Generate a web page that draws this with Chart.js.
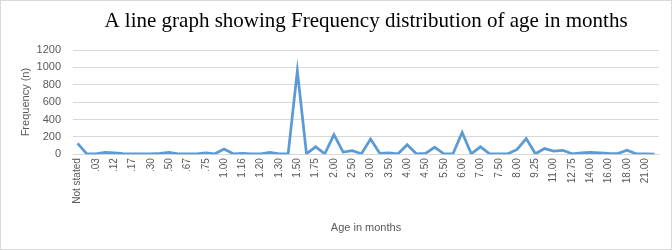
<!DOCTYPE html>
<html>
<head>
<meta charset="utf-8">
<script src="https://cdn.jsdelivr.net/npm/chart.js@4.4.1/dist/chart.umd.min.js"></script>
<style>
    html, body { margin: 0; padding: 0; background: #fff; }
    #wrap { width: 670px; height: 248px; border: 1px solid #d9d9d9; position: relative; }
</style>
</head>
<body>
<div id="wrap"><canvas id="ageChart" width="670" height="248"></canvas></div>
<script>
// Age categories (months) - only every other one is labelled on the axis
const ageLabels = [
    'Not stated', '.01', '.03', '.10', '.12', '.13', '.17', '.25', '.30', '.33',
    '.50', '.58', '.67', '.70', '.75', '.83', '1.00', '1.10', '1.16', '1.17',
    '1.20', '1.25', '1.30', '1.33', '1.50', '1.58', '1.75', '1.80', '2.00', '2.25',
    '2.50', '2.75', '3.00', '3.25', '3.50', '3.75', '4.00', '4.25', '4.50', '5.00',
    '5.50', '5.75', '6.00', '6.50', '7.00', '7.25', '7.50', '7.75', '8.00', '9.00',
    '9.25', '10.00', '11.00', '12.00', '12.75', '13.00', '14.00', '15.00', '16.00', '17.00',
    '18.00', '20.00', '21.00', '24.00'
];

const frequency = [
    125, 5, 5, 20, 15, 8, 5, 5, 5, 10,
    20, 5, 5, 5, 15, 5, 60, 5, 10, 5,
    5, 20, 5, 5, 960, 5, 85, 5, 225, 25,
    40, 5, 175, 10, 15, 5, 110, 5, 10, 80,
    5, 5, 250, 5, 85, 5, 5, 5, 55, 180,
    5, 65, 35, 45, 5, 15, 20, 15, 10, 8,
    45, 5, 5, 2
];

const yTicks = [0, 200, 400, 600, 800, 1000, 1200];

const chartTitle = 'A line graph showing Frequency distribution of age in months';
const grey = '#595959';

// title centred over the plot area, like the spreadsheet original
const plotTitle = {
    id: 'plotTitle',
    afterDraw(chart) {
        const c = chart.ctx;
        const a = chart.chartArea;
        c.save();
        c.font = '21px "Liberation Serif"';
        c.fillStyle = '#000';
        c.textAlign = 'center';
        c.textBaseline = 'alphabetic';
        c.fillText(chartTitle, (a.left + a.right) / 2, 26);
        c.restore();
    }
};

window.addEventListener('load', () => {
    const ctx = document.getElementById('ageChart').getContext('2d');
    new Chart(ctx, {
        type: 'line',
        data: {
            labels: ageLabels,
            datasets: [{
                label: 'Frequency',
                data: frequency,
                borderColor: '#5b9bd5',
                borderWidth: 2.75,
                pointRadius: 0,
                tension: 0,
                fill: false
            }]
        },
        plugins: [plotTitle],
        options: {
            responsive: false,
            animation: false,
            layout: { padding: { left: 14, right: 12, top: 49, bottom: 14 } },
            plugins: {
                legend: { display: false },
                tooltip: { enabled: false }
            },
            scales: {
                x: {
                    offset: true,
                    grid: { display: false, drawTicks: false },
                    border: { color: '#d9d9d9' },
                    ticks: {
                        autoSkip: false,
                        maxRotation: 90,
                        minRotation: 90,
                        padding: 4,
                        color: grey,
                        font: { family: 'Liberation Sans', size: 10 },
                        callback: (v, i) => (i % 2 === 0 ? ageLabels[i] : '')
                    },
                    title: {
                        display: true,
                        text: 'Age in months',
                        color: grey,
                        font: { family: 'Liberation Sans', size: 11 },
                        padding: { top: 14, bottom: 0 }
                    }
                },
                y: {
                    min: 0,
                    max: 1200,
                    afterBuildTicks: s => { s.ticks = yTicks.map(v => ({ value: v })); },
                    afterFit: s => { s.width = 58; },
                    grid: { color: '#d9d9d9', drawTicks: false },
                    border: { display: false },
                    ticks: {
                        padding: 12,
                        color: grey,
                        font: { family: 'Liberation Sans', size: 11 },
                        callback: v => String(v)
                    },
                    title: {
                        display: true,
                        text: 'Frequency (n)',
                        color: grey,
                        font: { family: 'Liberation Sans', size: 11 },
                        padding: { top: 4, bottom: 4 }
                    }
                }
            }
        }
    });
});
</script>
</body>
</html>
